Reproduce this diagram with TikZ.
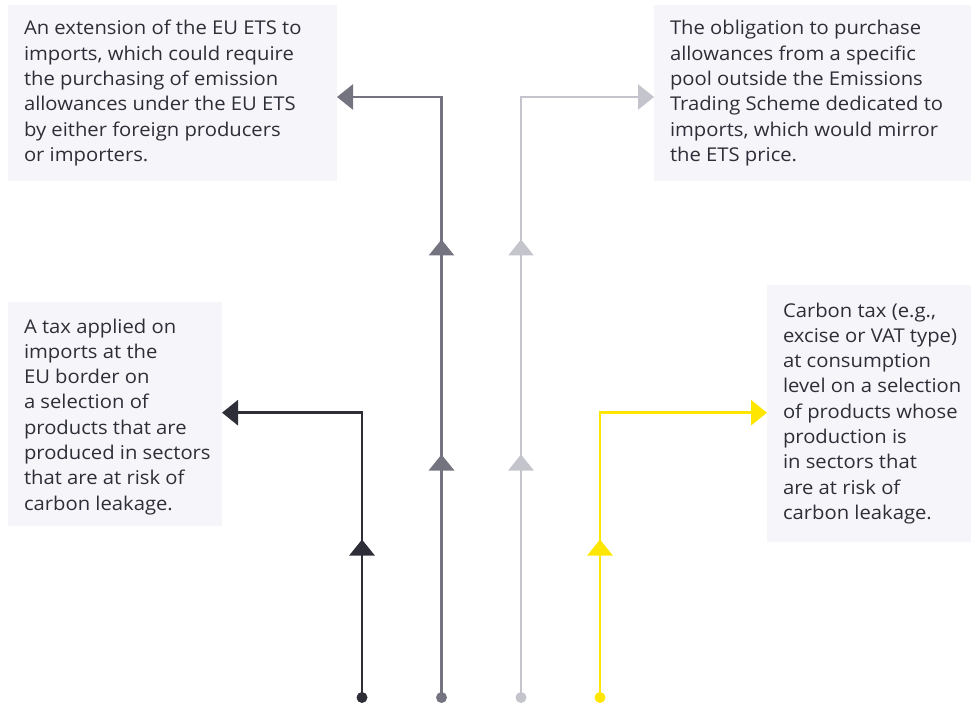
\documentclass[tikz,border=0pt]{standalone}
\usepackage{fontspec}
\setmainfont[FakeStretch=1.065]{Open Sans}
\usetikzlibrary{arrows.meta,decorations.markings}
\definecolor{eydark}{HTML}{2E2E38}
\definecolor{eygrey}{HTML}{747480}
\definecolor{eylight}{HTML}{C4C4CD}
\definecolor{eyyellow}{HTML}{FFE600}
\definecolor{boxfill}{HTML}{F6F6FA}
\definecolor{txt}{HTML}{2E2E38}
\begin{document}
\begin{tikzpicture}[x=1pt,y=-1pt,
  box/.style={fill=boxfill,draw=none,anchor=north west,inner sep=0pt,outer sep=0pt},
  txtnode/.style={anchor=base west,inner sep=0pt,outer sep=0pt,text=txt,
    font=\fontsize{19}{25.3}\selectfont},
  dot/.style={circle,fill=#1,inner sep=0pt,minimum size=11pt,outer sep=0pt},
  conn/.style={draw=#1,line width=2.9pt,-{Triangle[length=16pt,width=25pt]}},
  midtip/.style={postaction={decorate},decoration={markings,
      mark=at position #1 with {\arrow{Triangle[length=16pt,width=25pt]}}}},
]
\useasboundingbox (0,0) rectangle (971,703);
% boxes
\node[box,minimum width=329pt,minimum height=176pt] (b1) at (8,5) {};
\node[box,minimum width=317pt,minimum height=176pt] (b2) at (654,5) {};
\node[box,minimum width=214pt,minimum height=224pt] (b3) at (8,302) {};
\node[box,minimum width=204pt,minimum height=257pt] (b4) at (767,285) {};
% texts
\node[txtnode] (t1) at (24,35) {\begin{tabular}[t]{@{}l@{}}An extension of the EU ETS to\\ imports, which could require\\ the purchasing of emission\\ allowances under the EU ETS\\ by either foreign producers\\ or importers.\end{tabular}};
\node[txtnode] (t2) at (670,35) {\begin{tabular}[t]{@{}l@{}}The obligation to purchase\\ allowances from a specific\\ pool outside the Emissions\\ Trading Scheme dedicated to\\ imports, which would mirror\\ the ETS price.\end{tabular}};
\node[txtnode] (t3) at (24,333) {\begin{tabular}[t]{@{}l@{}}A tax applied on\\ imports at the\\ EU border on\\ a selection of\\ products that are\\ produced in sectors\\ that are at risk of\\ carbon leakage.\end{tabular}};
\node[txtnode] (t4) at (783,317) {\begin{tabular}[t]{@{}l@{}}Carbon tax (e.g.,\\ excise or VAT type)\\ at consumption\\ level on a selection\\ of products whose\\ production is\\ in sectors that\\ are at risk of\\ carbon leakage.\end{tabular}};
% dots
\node[dot=eydark] (d1) at (362,697.5) {};
\node[dot=eygrey] (d2) at (441.5,697.5) {};
\node[dot=eylight] (d3) at (521,697.5) {};
\node[dot=eyyellow] (d4) at (600,697.5) {};
% connectors
\draw[conn=eydark,eydark,midtip=158pt] (d1.center) |- ([yshift=1.3pt]b3.east);
\draw[conn=eygrey,eygrey,decoration={markings,
   mark=at position 243pt with {\arrow{Triangle[length=16pt,width=25pt]}},
   mark=at position 458pt with {\arrow{Triangle[length=16pt,width=25pt]}}},postaction={decorate}]
   (d2.center) |- ([yshift=-4pt]b1.east);
\draw[conn=eylight,eylight,decoration={markings,
   mark=at position 243pt with {\arrow{Triangle[length=16pt,width=25pt]}},
   mark=at position 458pt with {\arrow{Triangle[length=16pt,width=25pt]}}},postaction={decorate}]
   (d3.center) |- ([yshift=-4pt]b2.west);
\draw[conn=eyyellow,eyyellow,midtip=158pt] (d4.center) |- ([yshift=0.8pt]b4.west);
\end{tikzpicture}
\end{document}
